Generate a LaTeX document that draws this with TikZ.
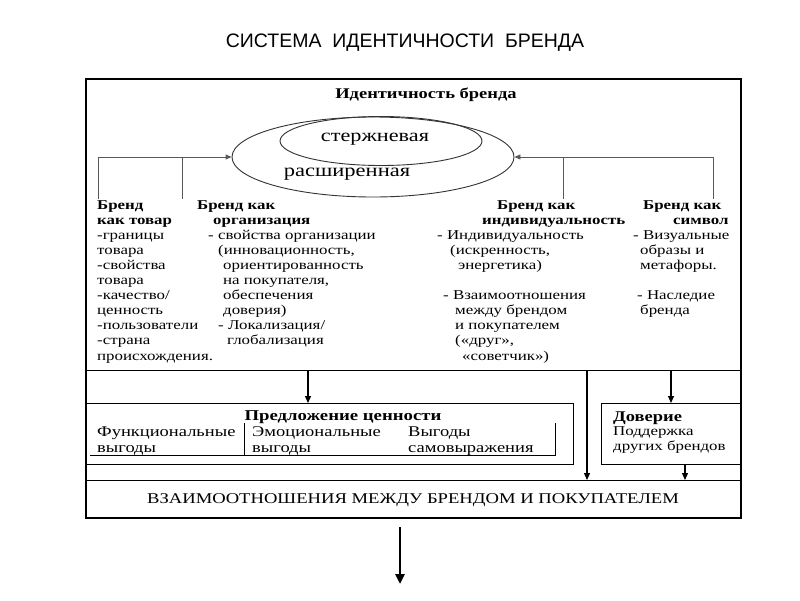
\documentclass[tikz,border=0pt]{standalone}
\usepackage{fontspec}
\setmainfont{Liberation Serif}
\newfontfamily\bodyf[FakeStretch=1.25]{Liberation Serif}
\newfontfamily\titlef{Liberation Sans}
\usetikzlibrary{arrows.meta,shapes.geometric}
\begin{document}
\begin{tikzpicture}[x=1pt,y=-1pt,
  ln/.style={anchor=base west,inner sep=0pt,font=\bodyf\fontsize{13.5}{15}\selectfont},
  lnb/.style={anchor=base west,inner sep=0pt,font=\bodyf\bfseries\fontsize{13.5}{15}\selectfont},
  vb/.style={anchor=base west,inner sep=0pt,font=\bodyf\fontsize{14.8}{16}\selectfont},
  vbb/.style={anchor=base,inner sep=0pt,font=\bodyf\bfseries\fontsize{15}{16}\selectfont},
  tb/.style={anchor=base west,inner sep=0pt,font=\bodyf\fontsize{13.5}{15}\selectfont},
  tbb/.style={anchor=base west,inner sep=0pt,font=\bodyf\bfseries\fontsize{14.8}{16}\selectfont},
  box/.style={draw,line width=1pt,rectangle,inner sep=0pt,anchor=north west},
  conn/.style={draw=black!65,line width=0.9pt},
  tip/.style={-{Triangle[length=6pt,width=5pt]}},
  arr/.style={draw=black,line width=1.3pt,-{Triangle[length=7pt,width=6pt]}},
  ell/.style={draw=black!80,line width=0.9pt,ellipse,inner sep=0pt}]
\useasboundingbox (0,0) rectangle (800,600);
\fill[white] (0,0) rectangle (800,600);

% title
\node[anchor=base,inner sep=0pt,font=\titlef\fontsize{19.5}{22}\selectfont] (title) at (405,47) {СИСТЕМА\ \ ИДЕНТИЧНОСТИ\ \ БРЕНДА};

% frame
\node[box,line width=1.7pt,minimum width=655pt,minimum height=439pt] (frame) at (85,78) {};
\node[anchor=base,inner sep=0pt,font=\bodyf\bfseries\fontsize{14.8}{16}\selectfont] (ident) at (426,98) {Идентичность бренда};

% ellipses
\node[ell,minimum width=282pt,minimum height=80pt] (ext) at (373,157) {};
\node[ell,minimum width=202pt,minimum height=49pt] (core) at (381,141) {};
\node[anchor=base,inner sep=0pt,font=\bodyf\fontsize{17.8}{20}\selectfont] (coret) at (375,141) {стержневая};
\node[anchor=base,inner sep=0pt,font=\bodyf\fontsize{18}{20}\selectfont] (extt) at (347,176) {расширенная};

% top connectors
\coordinate (l1) at (98,199);
\coordinate (l2) at (182,199);
\coordinate (r1) at (563,199);
\coordinate (r2) at (713,199);
\draw[conn] (l1) -- (98,157) -- (l2 |- 0,157);
\draw[conn,tip] (l2 |- 0,157) -- (ext.west);
\draw[conn] (l2) -- (l2 |- 0,157);
\draw[conn] (r2) -- (713,157) -- (r1 |- 0,157);
\draw[conn,tip] (r1 |- 0,157) -- (ext.east);
\draw[conn] (r1) -- (r1 |- 0,157);

% column 1
\foreach \r/\t in {1/{Бренд},2/{как товар}}
  \node[lnb,name=a\r] at ({97},{209+15.1*(\r-1)}) {\t};
\foreach \r/\t in {3/{-границы},4/{товара},5/{-свойства},6/{товара},7/{-качество/},8/{ценность},9/{-пользователи},10/{-страна},11/{происхождения.}}
  \node[ln,name=a\r] at ({97},{209+15.1*(\r-1)}) {\t};
% column 2
\foreach \r/\dx/\t in {1/0/{Бренд как},2/16/{организация}}
  \node[lnb,name=b\r] at ({197+\dx},{209+15.1*(\r-1)}) {\t};
\foreach \r/\dx/\t in {3/11/{- свойства организации},4/21/{(инновационность,},5/26/{ориентированность},6/26/{на покупателя,},7/26/{обеспечения},8/26/{доверия)},9/21/{- Локализация/},10/30/{глобализация}}
  \node[ln,name=b\r] at ({197+\dx},{209+15.1*(\r-1)}) {\t};
% column 3
\foreach \r/\dx/\t in {1/60/{Бренд как},2/45/{индивидуальность}}
  \node[lnb,name=c\r] at ({437+\dx},{209+15.1*(\r-1)}) {\t};
\foreach \r/\dx/\t in {3/0/{- Индивидуальность},4/13/{(искренность,},5/21/{энергетика)},7/6/{- Взаимоотношения},8/18/{между брендом},9/18/{и покупателем},10/18/{(«друг»,},11/25/{«советчик»)}}
  \node[ln,name=c\r] at ({437+\dx},{209+15.1*(\r-1)}) {\t};
% column 4
\foreach \r/\dx/\t in {1/10/{Бренд как},2/40/{символ}}
  \node[lnb,name=d\r] at ({633+\dx},{209+15.1*(\r-1)}) {\t};
\foreach \r/\dx/\t in {3/0/{- Визуальные},4/7/{образы и},5/7/{метафоры.},7/4/{- Наследие},8/7/{бренда}}
  \node[ln,name=d\r] at ({633+\dx},{209+15.1*(\r-1)}) {\t};

% separator
\coordinate (sepL) at (85,370);
\coordinate (sepR) at (740,370);
\draw[line width=1pt] (sepL) -- (sepR);

% lower boxes
\node[box,minimum width=488pt,minimum height=61pt] (value) at (85,403) {};
\node[box,minimum width=139pt,minimum height=61pt] (trust) at (601,403) {};
\node[box,minimum width=655pt,minimum height=37pt] (rel) at (85,480) {};

% value box content
\node[vbb] (vt) at (343,420) {Предложение ценности};
\node[vb] (v1a) at (97,436) {Функциональные};
\node[vb] (v1b) at (97,452) {выгоды};
\node[vb] (v2a) at (252,436) {Эмоциональные};
\node[vb] (v2b) at (252,452) {выгоды};
\node[vb] (v3a) at (408,436) {Выгоды};
\node[vb] (v3b) at (408,452) {самовыражения};
\coordinate (s1t) at (244,423);
\coordinate (s2t) at (555,423);
\coordinate (hl) at (90,455);
\draw[line width=0.9pt] (s1t) -- (s1t |- hl);
\draw[line width=0.9pt] (s2t) -- (s2t |- hl) -- (hl);

% trust box content
\node[tbb] (tt) at (613,421) {Доверие};
\node[tb] (t1) at (613,435) {Поддержка};
\node[tb] (t2) at (613,450) {других брендов};

% relation box text
\node[anchor=base,inner sep=0pt,font=\bodyf\fontsize{14.9}{17}\selectfont] (relt) at (413,503) {ВЗАИМООТНОШЕНИЯ МЕЖДУ БРЕНДОМ И ПОКУПАТЕЛЕМ};

% arrows
\coordinate (a1) at (308,370);
\coordinate (a2) at (587,370);
\coordinate (a3) at (671,370);
\coordinate (a4) at (685,464);
\draw[arr] (a1) -- (a1 |- value.north);
\draw[arr] (a2) -- (a2 |- rel.north);
\draw[arr] (a3) -- (a3 |- trust.north);
\draw[arr] (a4) -- (a4 |- rel.north);

\coordinate (b1) at (400,527);
\coordinate (b2) at (400,584);
\draw[line width=2.8pt,-{Triangle[length=10pt,width=9pt]}] (b1) -- (b2);
\end{tikzpicture}
\end{document}
